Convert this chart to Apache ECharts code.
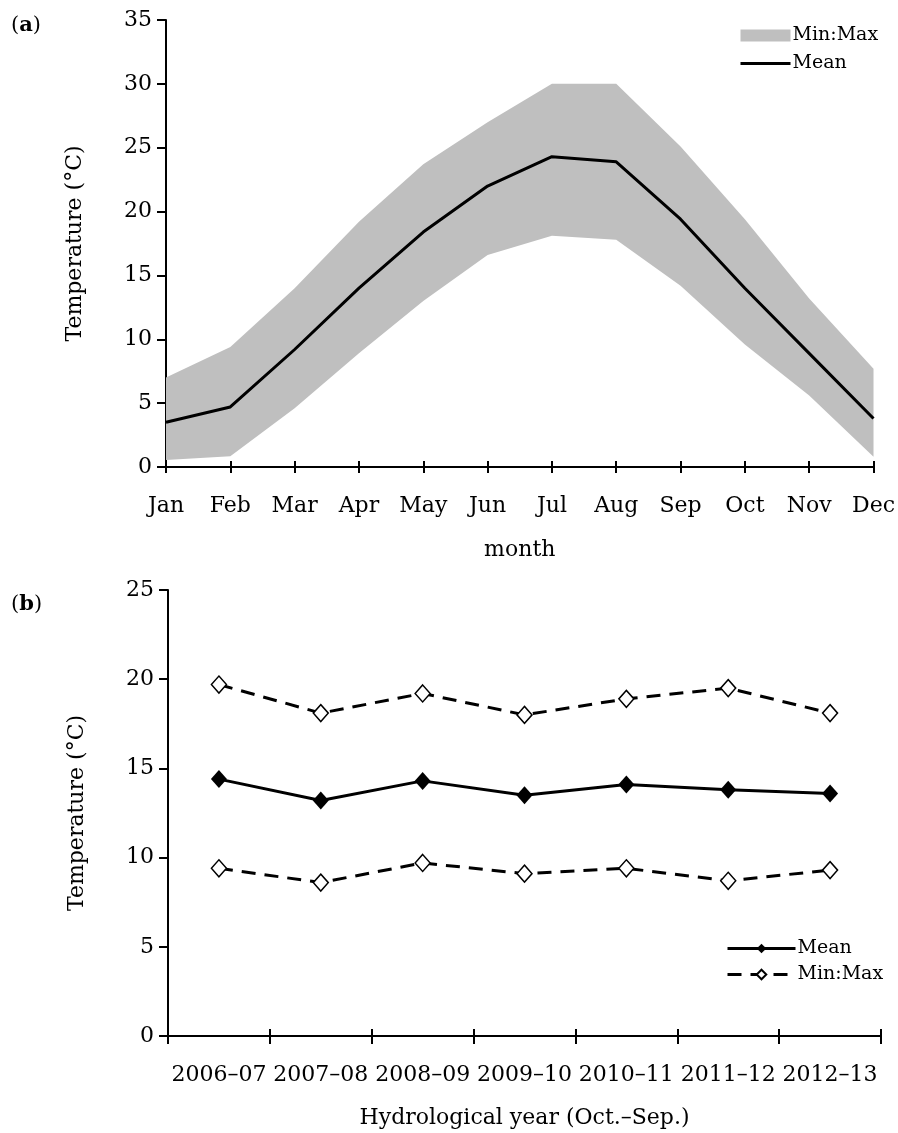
<!DOCTYPE html>
<html>
<head>
<meta charset="utf-8">
<script src="https://cdn.jsdelivr.net/npm/echarts@6/dist/echarts.min.js"></script>
<style>
  html, body { margin: 0; padding: 0; background: #fff; }
  #main { width: 898px; height: 1133px; }
</style>
</head>
<body>
<div id="main"></div>
<script>
// panel (a): monthly air temperature
const months = ["Jan", "Feb", "Mar", "Apr", "May", "Jun", "Jul", "Aug", "Sep", "Oct", "Nov", "Dec"];
const monthMean = [3.5, 4.7, 9.2, 14.0, 18.4, 22.0, 24.3, 23.9, 19.4, 14.0, 8.9, 3.8];
const monthMin = [0.55, 0.85, 4.6, 8.9, 13.0, 16.6, 18.1, 17.8, 14.2, 9.6, 5.6, 0.8];
const monthMax = [7.0, 9.4, 14.0, 19.2, 23.7, 27.0, 30.0, 30.0, 25.1, 19.4, 13.2, 7.7];

// panel (b): hydrological years
const years = ["2006–07", "2007–08", "2008–09", "2009–10", "2010–11", "2011–12", "2012–13"];
const yearMean = [14.4, 13.2, 14.3, 13.5, 14.1, 13.8, 13.6];
const yearMax = [19.7, 18.1, 19.2, 18.0, 18.9, 19.5, 18.1];
const yearMin = [9.4, 8.6, 9.7, 9.1, 9.4, 8.7, 9.3];

const FONT = "DejaVu Serif";
const bandWidth = monthMax.map((v, i) => +(v - monthMin[i]).toFixed(2));

const chart = echarts.init(document.getElementById("main"));

const axisLine = { show: true, lineStyle: { color: "#000", width: 2 } };
const labelStyle = { color: "#000", fontFamily: FONT, fontSize: 22 };
const nameStyle = { color: "#000", fontFamily: FONT, fontSize: 22 };
const tickStyle = { color: "#000", width: 2 };

function panelTag(letter, top) {
    return {
        type: "text", left: 11, top: top,
        style: {
            text: "{p|(}{b|" + letter + "}{p|)}",
            rich: {
                p: { fontFamily: FONT, fontSize: 21, fill: "#000" },
                b: { fontFamily: FONT, fontSize: 21, fontWeight: "bold", fill: "#000" },
            },
        },
    };
}

const option = {
    backgroundColor: "#fff",
    animation: false,
    graphic: [panelTag("a", 15), panelTag("b", 594)],
    grid: [
        { left: 166, top: 20, width: 712, height: 447 },
        { left: 168, top: 590, width: 713, height: 446 },
    ],
    legend: [
        {
            orient: "vertical",
            left: 734,
            top: 21,
            itemWidth: 50,
            itemHeight: 12,
            itemGap: 9,
            textStyle: { color: "#000", fontFamily: FONT, fontSize: 19, padding: [0, 0, 0, -3] },
            lineStyle: { width: 3 },
            data: [
                { name: "Min:Max", icon: "rect", itemStyle: { color: "#bfbfbf" } },
                { name: "Mean", itemStyle: { opacity: 0 } },
            ],
        },
        {
            orient: "vertical",
            left: 721,
            top: 934,
            itemWidth: 68,
            itemHeight: 12,
            itemGap: 7,
            textStyle: { color: "#000", fontFamily: FONT, fontSize: 19, padding: [0, 0, 0, -3] },
            lineStyle: { width: 3 },
            data: [{ name: "Mean " }, { name: "Min:Max " }],
        },
    ],
    xAxis: [
        {
            gridIndex: 0, type: "category", data: months, boundaryGap: false, position: "bottom",
            axisLine, axisTick: { show: true, length: 6, lineStyle: tickStyle },
            axisLabel: { ...labelStyle, margin: 28, interval: 0 },
            name: "month", nameLocation: "middle", nameGap: 72, nameTextStyle: nameStyle,
        },
        {
            gridIndex: 0, type: "category", data: months, boundaryGap: false, position: "bottom",
            axisLine: { show: false }, axisLabel: { show: false },
            axisTick: { show: true, inside: true, length: 6, lineStyle: tickStyle },
        },
        {
            gridIndex: 1, type: "category", data: years, boundaryGap: true, position: "bottom",
            axisLine, axisTick: { show: true, length: 8, interval: 0, lineStyle: tickStyle },
            axisLabel: { ...labelStyle, margin: 28, interval: 0 },
            name: "Hydrological year (Oct.–Sep.)", nameLocation: "middle", nameGap: 71, nameTextStyle: nameStyle,
        },
        {
            gridIndex: 1, type: "category", data: years, boundaryGap: true, position: "bottom",
            axisLine: { show: false }, axisLabel: { show: false },
            axisTick: { show: true, inside: true, length: 7, interval: 0, lineStyle: tickStyle },
        },
    ],
    yAxis: [
        {
            gridIndex: 0, type: "value", min: 0, max: 35, interval: 5,
            axisLine, axisTick: { show: true, length: 9, lineStyle: tickStyle },
            splitLine: { show: false },
            axisLabel: { ...labelStyle, margin: 14 },
            name: "Temperature (°C)", nameLocation: "middle", nameGap: 80, nameTextStyle: nameStyle,
        },
        {
            gridIndex: 1, type: "value", min: 0, max: 25, interval: 5,
            axisLine, axisTick: { show: true, length: 9, lineStyle: tickStyle },
            splitLine: { show: false },
            axisLabel: { ...labelStyle, margin: 14 },
            name: "Temperature (°C)", nameLocation: "middle", nameGap: 80, nameTextStyle: nameStyle,
        },
    ],
    series: [
        {
            name: "base", type: "line", xAxisIndex: 0, yAxisIndex: 0,
            data: monthMin, stack: "band", symbol: "none",
            lineStyle: { opacity: 0 }, silent: true,
        },
        {
            name: "Min:Max", type: "line", xAxisIndex: 0, yAxisIndex: 0,
            data: bandWidth, stack: "band", symbol: "none",
            lineStyle: { opacity: 0 }, itemStyle: { color: "#bfbfbf" },
            areaStyle: { color: "#bfbfbf", opacity: 1 },
        },
        {
            name: "Mean", type: "line", xAxisIndex: 0, yAxisIndex: 0,
            data: monthMean, symbol: "none",
            lineStyle: { color: "#000", width: 3 }, itemStyle: { color: "#000" },
        },
        {
            name: "Mean ", type: "line", xAxisIndex: 2, yAxisIndex: 1,
            data: yearMean, symbol: "diamond", symbolSize: [16, 18],
            lineStyle: { color: "#000", width: 3 }, itemStyle: { color: "#000" },
        },
        {
            name: "Min:Max ", type: "line", xAxisIndex: 2, yAxisIndex: 1,
            data: yearMax, symbol: "diamond", symbolSize: [15, 17],
            lineStyle: { color: "#000", width: 3, type: [14, 9] },
            itemStyle: { color: "#fff", borderColor: "#000", borderWidth: 1.5 },
        },
        {
            name: "Min:Max ", type: "line", xAxisIndex: 2, yAxisIndex: 1,
            data: yearMin, symbol: "diamond", symbolSize: [15, 17],
            lineStyle: { color: "#000", width: 3, type: [14, 9] },
            itemStyle: { color: "#fff", borderColor: "#000", borderWidth: 1.5 },
        },
    ],
};

chart.setOption(option);
</script>
</body>
</html>
